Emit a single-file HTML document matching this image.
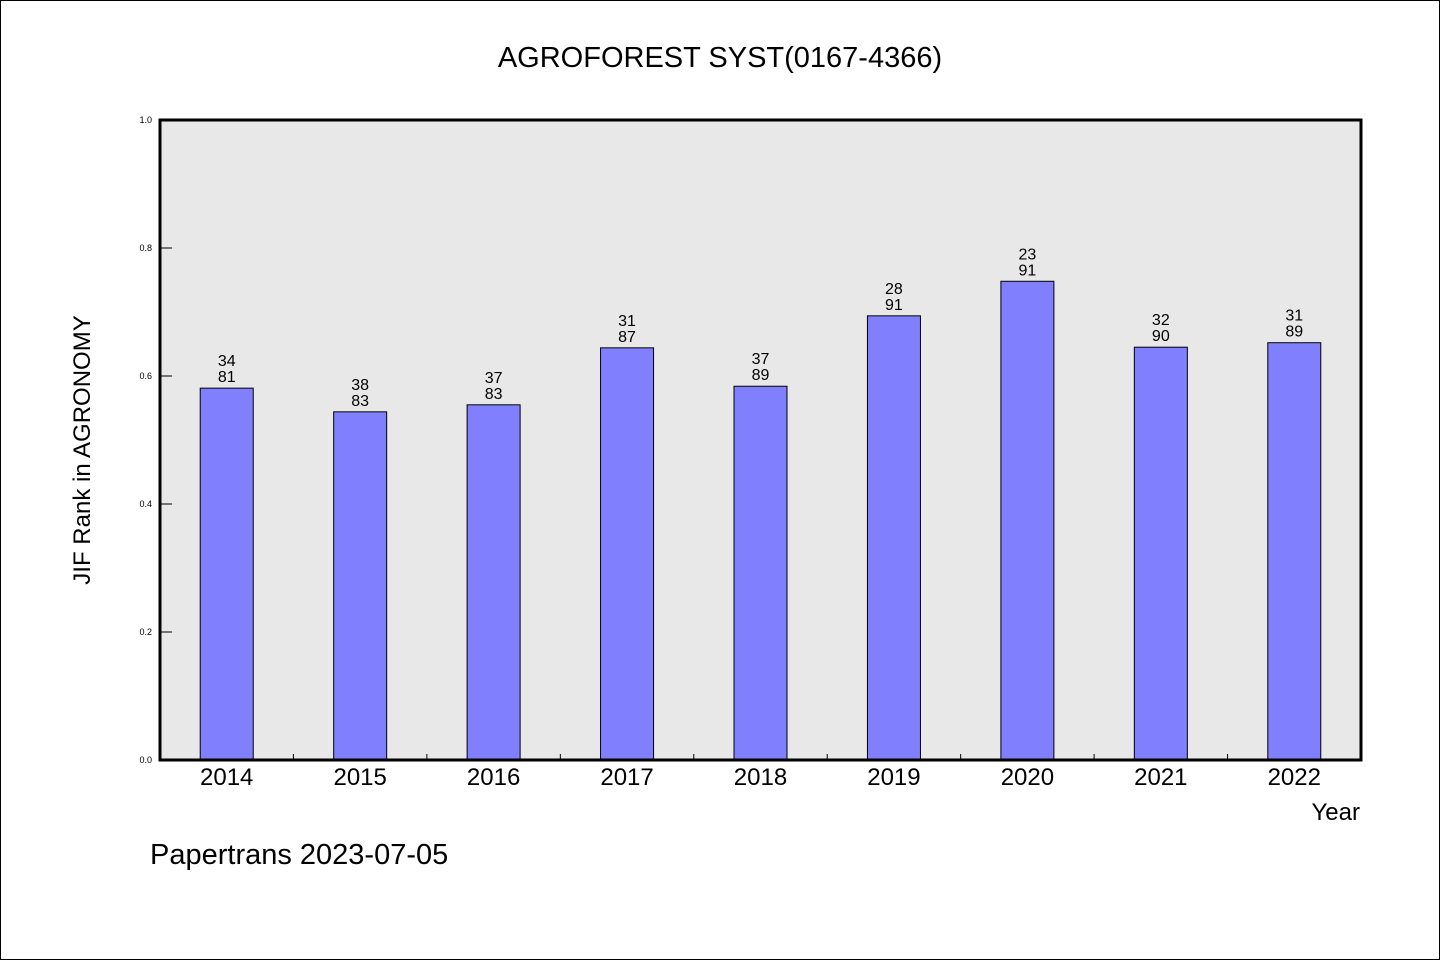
<!DOCTYPE html>
<html><head><meta charset="utf-8"><style>
body{margin:0;background:#fff}
svg text{font-family:"WenQuanYi Zen Hei","Liberation Sans",sans-serif;fill:#000}
</style></head><body>
<svg width="1440" height="960" xmlns="http://www.w3.org/2000/svg">
<rect x="0.5" y="0.5" width="1439" height="959" fill="#fff" stroke="#000"/>
<text x="720" y="67" font-size="29" text-anchor="middle">AGROFOREST SYST(0167-4366)</text>
<rect x="160" y="120" width="1201" height="640" fill="#e8e8e8"/>
<g id="bars"></g>
<rect x="160" y="120" width="1201" height="640" fill="none" stroke="#000" stroke-width="3"/>
<text transform="translate(90,450) rotate(-90)" font-size="24" text-anchor="middle">JIF Rank in AGRONOMY</text>
<text x="1360" y="820" font-size="24" text-anchor="end">Year</text>
<text x="150" y="864" font-size="29">Papertrans 2023-07-05</text>
</svg>
<script>
const years=['2014','2015','2016','2017','2018','2019','2020','2021','2022'];
const values=[0.581,0.544,0.555,0.644,0.584,0.694,0.748,0.645,0.652];
const ranks=['34','38','37','31','37','28','23','32','31'];
const totals=['81','83','83','87','89','91','91','90','89'];
const yTicks=[0,0.2,0.4,0.6,0.8,1.0];
const tickLabels=['0.0','0.2','0.4','0.6','0.8','1.0'];
const X0=160,X1=1361,Y0=760,Y1=120;
const bw=(X1-X0)/years.length;
const y=v=>Y0-(Y0-Y1)*v;
const xc=i=>X0+bw*(i+0.5);
const g=document.getElementById('bars');
const NS='http://www.w3.org/2000/svg';
function mk(t,a){const e=document.createElementNS(NS,t);for(const k in a)e.setAttribute(k,a[k]);g.appendChild(e);return e;}
yTicks.forEach((v,i)=>{
 const l=mk('line',{x1:X0,x2:X0+12,y1:y(v),y2:y(v),stroke:'#000'});
 
 
 const t=mk('text',{x:152,y:y(v)+3,'font-size':9,'text-anchor':'end'});
 t.textContent=tickLabels[i];
 
 
});
years.forEach((yr,i)=>{
 const r=mk('rect',{x:xc(i)-26.5,y:y(values[i]),width:53,height:Y0-y(values[i]),fill:'#8080ff',stroke:'#000','stroke-width':1});
 
 
 const a=mk('text',{x:xc(i),y:y(values[i])-22,'font-size':16,'text-anchor':'middle'});
 a.textContent=ranks[i];
 
 
 const b=mk('text',{x:xc(i),y:y(values[i])-6,'font-size':16,'text-anchor':'middle'});
 b.textContent=totals[i];
 
 
 const t=mk('text',{x:xc(i),y:785,'font-size':24,'text-anchor':'middle'});
 t.textContent=yr;
 
 
 if(i>0){
  const l=mk('line',{x1:X0+bw*i,x2:X0+bw*i,y1:Y0,y2:Y0-6,stroke:'#000'});
  
  
 }
});
</script>
</body></html>
